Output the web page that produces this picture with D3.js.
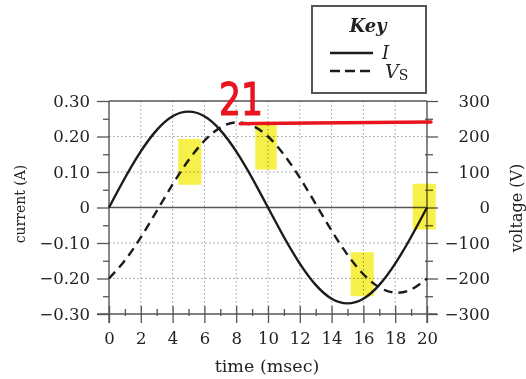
<!DOCTYPE html>
<html>
<head>
<meta charset="utf-8">
<script src="https://cdn.jsdelivr.net/npm/d3@7"></script>
<style>
  body { margin: 0; background: #fff; }
  svg { display: block; }
  text { font-family: "DejaVu Serif", "Liberation Serif", serif; fill: #222; }
</style>
</head>
<body>
<figure id="chart" style="margin:0"></figure>
<script>
// time in msec, read every 1 msec off the picture
const time = d3.range(0, 21);
// current I (A)
const current = [0, 0.083, 0.158, 0.218, 0.257, 0.27, 0.257, 0.218, 0.158, 0.083, 0,
  -0.083, -0.158, -0.218, -0.257, -0.27, -0.257, -0.218, -0.158, -0.083, 0];
// source voltage Vs (V)
const voltage = [-200, -149, -84, -10, 65, 133, 188, 225, 240, 231, 200,
  149, 84, 10, -65, -133, -188, -225, -240, -231, -200];

const xTicks = [0, 2, 4, 6, 8, 10, 12, 14, 16, 18, 20];
const iTicks = [-0.3, -0.2, -0.1, 0, 0.1, 0.2, 0.3];
const iTickLabels = ["\u22120.30", "\u22120.20", "\u22120.10", "0", "0.10", "0.20", "0.30"];
const vTicks = [-300, -200, -100, 0, 100, 200, 300];
const vTickLabels = ["\u2212300", "\u2212200", "\u2212100", "0", "100", "200", "300"];

// hand-drawn marks on the picture (time range, voltage range)
const highlights = [[4.35, 5.8, 64, 193], [9.2, 10.55, 107, 236], [15.2, 16.65, -250, -126], [19.1, 20.55, -62, 67]];

const W = 526, H = 379;
const margin = {top: 101, right: 99, bottom: 65, left: 109};
const x0 = margin.left, x1 = W - margin.right, y0 = margin.top, y1 = H - margin.bottom;

const svg = d3.select("#chart").append("svg")
  .attr("width", W).attr("height", H);

const x = d3.scaleLinear().domain([0, 20]).range([x0, x1]);
const yI = d3.scaleLinear().domain([-0.3, 0.3]).range([y1, y0]);
const yV = d3.scaleLinear().domain([-300, 300]).range([y1, y0]);

const ink = "#1c1c1c", axisInk = "#555";

// dotted grid
svg.append("g").selectAll("line").data(xTicks.slice(1, -1)).join("line")
  .attr("x1", d => x(d)).attr("x2", d => x(d)).attr("y1", y0).attr("y2", y1)
  .attr("stroke", "#999").attr("stroke-width", 1).attr("stroke-dasharray", "1.5,2.5");
svg.append("g").selectAll("line").data([-0.2, -0.1, 0.1, 0.2]).join("line")
  .attr("x1", x0).attr("x2", x1).attr("y1", d => yI(d)).attr("y2", d => yI(d))
  .attr("stroke", "#999").attr("stroke-width", 1).attr("stroke-dasharray", "1.5,2.5");

// zero line and top border
svg.append("line").attr("x1", x0).attr("x2", x1).attr("y1", yI(0)).attr("y2", yI(0))
  .attr("stroke", axisInk).attr("stroke-width", 1.3);
svg.append("line").attr("x1", x0).attr("x2", x1).attr("y1", y0).attr("y2", y0)
  .attr("stroke", axisInk).attr("stroke-width", 1.3);

// axes
function style(g) {
  g.select(".domain").remove();
  g.selectAll(".tick line").attr("stroke", axisInk).attr("stroke-width", 1.3);
  g.selectAll(".tick text").attr("fill", "#222")
    .style("font-family", "'DejaVu Serif', serif").style("font-size", "16.5px");
}

svg.append("g").attr("transform", `translate(${x0},0)`)
  .call(d3.axisLeft(yI).tickValues(iTicks).tickSize(12).tickPadding(7)
    .tickFormat((d, i) => iTickLabels[i]))
  .call(style);
svg.append("g").attr("transform", `translate(${x0},0)`)
  .call(d3.axisLeft(yI).tickValues([-0.25, -0.15, -0.05, 0.05, 0.15, 0.25]).tickSize(6).tickFormat(""))
  .call(style);

svg.append("g").attr("transform", `translate(${x1},0)`)
  .call(d3.axisRight(yV).tickValues(vTicks).tickSize(11).tickFormat((d, i) => vTickLabels[i]))
  .call(style)
  .call(g => g.selectAll(".tick text").attr("text-anchor", "end").attr("x", 63));
svg.append("g").attr("transform", `translate(${x1},0)`)
  .call(d3.axisRight(yV).tickValues([-250, -150, -50, 50, 150, 250]).tickSize(6).tickFormat(""))
  .call(style)
  .call(g => g.selectAll(".tick line").attr("x1", -2));

svg.append("g").attr("transform", `translate(0,${y1})`)
  .call(d3.axisBottom(x).tickValues(xTicks).tickSize(9).tickPadding(9))
  .call(style)
  .call(g => g.selectAll(".tick line").attr("y1", -8));
svg.append("g").attr("transform", `translate(0,${y1})`)
  .call(d3.axisBottom(x).tickValues(d3.range(1, 20, 2)).tickSize(2).tickFormat(""))
  .call(style)
  .call(g => g.selectAll(".tick line").attr("y1", -5));

// axis lines
svg.append("line").attr("x1", x0 - 12).attr("x2", x1 + 10).attr("y1", y1).attr("y2", y1)
  .attr("stroke", axisInk).attr("stroke-width", 1.4);
svg.append("line").attr("x1", x0).attr("x2", x0).attr("y1", y0).attr("y2", y1 + 9)
  .attr("stroke", axisInk).attr("stroke-width", 1.4);
svg.append("line").attr("x1", x1).attr("x2", x1).attr("y1", y0).attr("y2", y1 + 9)
  .attr("stroke", axisInk).attr("stroke-width", 1.4);

// curves
svg.append("path")
  .datum(time)
  .attr("d", d3.line().curve(d3.curveNatural).x(d => x(d)).y((d, i) => yI(current[i])))
  .attr("fill", "none").attr("stroke", ink).attr("stroke-width", 2.4);
svg.append("path")
  .datum(time)
  .attr("d", d3.line().curve(d3.curveNatural).x(d => x(d)).y((d, i) => yV(voltage[i])))
  .attr("fill", "none").attr("stroke", ink).attr("stroke-width", 2.4)
  .attr("stroke-dasharray", "9,6");

// axis titles
svg.append("text").attr("x", (x0 + x1) / 2 - 1).attr("y", 372).attr("text-anchor", "middle")
  .style("font-size", "17.5px").text("time (msec)");
svg.append("text").attr("transform", "translate(25,204) rotate(-90)").attr("text-anchor", "middle")
  .style("font-size", "14px").text("current (A)");
svg.append("text").attr("transform", "translate(522,208) rotate(-90)").attr("text-anchor", "middle")
  .style("font-size", "16px").text("voltage (V)");

// key
const key = svg.append("g");
key.append("rect").attr("x", 312).attr("y", 6).attr("width", 114).attr("height", 87)
  .attr("fill", "#fff").attr("stroke", axisInk).attr("stroke-width", 2);
key.append("text").attr("x", 368).attr("y", 32).attr("text-anchor", "middle")
  .style("font-size", "18px").style("font-style", "italic").style("font-weight", "bold").text("Key");
key.append("line").attr("x1", 330).attr("x2", 373).attr("y1", 53).attr("y2", 53)
  .attr("stroke", ink).attr("stroke-width", 2.4);
key.append("line").attr("x1", 330).attr("x2", 373).attr("y1", 71).attr("y2", 71)
  .attr("stroke", ink).attr("stroke-width", 2.4).attr("stroke-dasharray", "10,5");
key.append("text").attr("x", 382).attr("y", 59)
  .style("font-size", "18px").style("font-style", "italic").text("I");
const vs = key.append("text").attr("x", 385).attr("y", 78).style("font-size", "19px");
vs.append("tspan").style("font-style", "italic").text("V");
vs.append("tspan").attr("dy", 2).style("font-size", "14px").text("S");

// hand-drawn marks
svg.append("g").selectAll("rect").data(highlights).join("rect")
  .attr("x", d => x(d[0])).attr("width", d => x(d[1]) - x(d[0]))
  .attr("y", d => yV(d[3])).attr("height", d => yV(d[2]) - yV(d[3]))
  .attr("fill", "#f7f04a").style("mix-blend-mode", "multiply");
svg.append("line").attr("x1", x(8.25)).attr("x2", x(20.25)).attr("y1", yV(236)).attr("y2", yV(241))
  .attr("stroke", "#e8141e").attr("stroke-width", 3.5).attr("stroke-linecap", "round");
svg.append("text").attr("x", 219).attr("y", 115)
  .attr("textLength", 44).attr("lengthAdjust", "spacingAndGlyphs")
  .style("font-family", "'DejaVu Sans', sans-serif").style("font-size", "45px")
  .style("fill", "#e8141e").attr("stroke", "#e8141e").attr("stroke-width", 1.2)
  .text("21");
</script>
</body>
</html>
